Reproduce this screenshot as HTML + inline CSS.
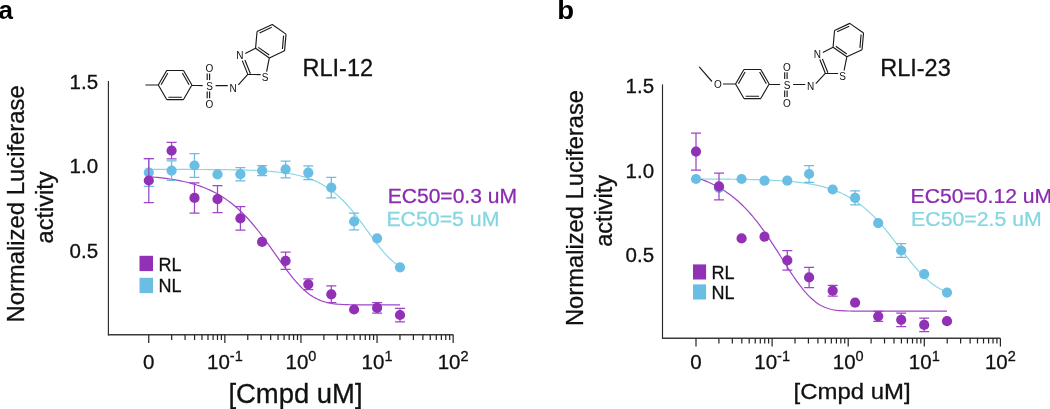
<!DOCTYPE html><html><head><meta charset="utf-8"><style>html,body{margin:0;padding:0;background:#fff;overflow:hidden}svg{display:block;will-change:transform}text{font-family:"Liberation Sans",sans-serif;fill:#111;stroke:#111;stroke-width:.3px}</style></head><body>
<svg width="1050" height="409" viewBox="0 0 1050 409">
<rect width="1050" height="409" fill="#fff"/>
<text x="-1.5" y="18.7" font-size="26" font-weight="bold" style="fill:#000;stroke:none">a</text>
<text transform="translate(557.2,18.7) scale(1.06,1)" font-size="26" font-weight="bold" style="fill:#000;stroke:none">b</text>
<path d="M108.4,81V335.4" fill="none" stroke="#2a2a2a" stroke-width="1.15"/>
<path d="M107.9,334.7H453.4" fill="none" stroke="#3a3a3a" stroke-width="1.5"/>
<path d="M148.76,334.7v8.4M171.67,334.7v5.2M185.07,334.7v5.2M194.58,334.7v5.2M201.95,334.7v5.2M207.98,334.7v5.2M213.07,334.7v5.2M217.49,334.7v5.2M221.38,334.7v5.2M224.86,334.7v8.4M247.77,334.7v5.2M261.17,334.7v5.2M270.68,334.7v5.2M278.05,334.7v5.2M284.08,334.7v5.2M289.17,334.7v5.2M293.59,334.7v5.2M297.48,334.7v5.2M300.96,334.7v8.4M323.87,334.7v5.2M337.27,334.7v5.2M346.78,334.7v5.2M354.15,334.7v5.2M360.18,334.7v5.2M365.27,334.7v5.2M369.69,334.7v5.2M373.58,334.7v5.2M377.06,334.7v8.4M399.97,334.7v5.2M413.37,334.7v5.2M422.88,334.7v5.2M430.25,334.7v5.2M436.28,334.7v5.2M441.37,334.7v5.2M445.79,334.7v5.2M449.68,334.7v5.2M453.16,334.7v8.4" stroke="#222" stroke-width="1.2" fill="none"/>
<text x="148.76" y="369.2" font-size="20.5" text-anchor="middle">0</text>
<text x="224.86" y="369.2" font-size="20.5" text-anchor="middle">10<tspan font-size="14.5" dy="-8.1">-1</tspan></text>
<text x="300.96" y="369.2" font-size="20.5" text-anchor="middle">10<tspan font-size="14.5" dy="-8.1">0</tspan></text>
<text x="377.06" y="369.2" font-size="20.5" text-anchor="middle">10<tspan font-size="14.5" dy="-8.1">1</tspan></text>
<text x="453.16" y="369.2" font-size="20.5" text-anchor="middle">10<tspan font-size="14.5" dy="-8.1">2</tspan></text>
<text x="98.1" y="88.5" font-size="20.5" text-anchor="end">1.5</text>
<text x="98.1" y="173.2" font-size="20.5" text-anchor="end">1.0</text>
<text x="98.1" y="257.8" font-size="20.5" text-anchor="end">0.5</text>
<text transform="translate(23.9,203.9) rotate(-90) scale(1.016,1)" font-size="23.5" text-anchor="middle">Normalized Luciferase</text>
<text transform="translate(52.7,207.5) rotate(-90)" font-size="23.5" text-anchor="middle">activity</text>
<text transform="translate(295.45,403.1) scale(1.024,1)" font-size="26.8" text-anchor="middle">[Cmpd uM]</text>
<path d="M148.80,169.40 L150.91,169.40 L153.02,169.40 L155.13,169.40 L157.24,169.40 L159.35,169.40 L161.47,169.40 L163.58,169.41 L165.69,169.41 L167.80,169.41 L169.91,169.41 L172.02,169.42 L174.13,169.42 L176.24,169.42 L178.35,169.43 L180.46,169.43 L182.57,169.44 L184.69,169.44 L186.80,169.45 L188.91,169.45 L191.02,169.46 L193.13,169.46 L195.24,169.47 L197.35,169.48 L199.46,169.49 L201.57,169.50 L203.68,169.51 L205.79,169.52 L207.91,169.53 L210.02,169.55 L212.13,169.56 L214.24,169.58 L216.35,169.60 L218.46,169.62 L220.57,169.64 L222.68,169.66 L224.79,169.69 L226.90,169.71 L229.02,169.74 L231.13,169.78 L233.24,169.81 L235.35,169.85 L237.46,169.89 L239.57,169.94 L241.68,169.99 L243.79,170.04 L245.90,170.10 L248.01,170.17 L250.12,170.24 L252.24,170.32 L254.35,170.40 L256.46,170.49 L258.57,170.59 L260.68,170.70 L262.79,170.82 L264.90,170.95 L267.01,171.09 L269.12,171.24 L271.23,171.41 L273.34,171.59 L275.46,171.78 L277.57,172.00 L279.68,172.23 L281.79,172.48 L283.90,172.76 L286.01,173.06 L288.12,173.38 L290.23,173.73 L292.34,174.12 L294.45,174.53 L296.56,174.98 L298.68,175.47 L300.79,176.00 L302.90,176.57 L305.01,177.19 L307.12,177.86 L309.23,178.58 L311.34,179.36 L313.45,180.20 L315.56,181.10 L317.67,182.08 L319.78,183.13 L321.90,184.25 L324.01,185.46 L326.12,186.75 L328.23,188.13 L330.34,189.61 L332.45,191.17 L334.56,192.84 L336.67,194.61 L338.78,196.49 L340.89,198.46 L343.01,200.54 L345.12,202.73 L347.23,205.02 L349.34,207.41 L351.45,209.89 L353.56,212.46 L355.67,215.12 L357.78,217.84 L359.89,220.64 L362.00,223.48 L364.11,226.36 L366.23,229.27 L368.34,232.18 L370.45,235.09 L372.56,237.98 L374.67,240.82 L376.78,243.61 L378.89,246.32 L381.00,248.94 L383.11,251.46 L385.22,253.86 L387.33,256.13 L389.45,258.27 L391.56,260.27 L393.67,262.11 L395.78,263.81 L397.89,265.36 L400.00,266.77" fill="none" stroke="#8ad7e2" stroke-width="1.2"/>
<path d="M148.80,176.71 L150.91,176.88 L153.02,177.06 L155.13,177.25 L157.24,177.46 L159.35,177.68 L161.47,177.91 L163.58,178.16 L165.69,178.43 L167.80,178.71 L169.91,179.01 L172.02,179.33 L174.13,179.67 L176.24,180.04 L178.35,180.42 L180.46,180.83 L182.57,181.27 L184.69,181.74 L186.80,182.23 L188.91,182.76 L191.02,183.31 L193.13,183.91 L195.24,184.54 L197.35,185.20 L199.46,185.91 L201.57,186.66 L203.68,187.46 L205.79,188.30 L207.91,189.20 L210.02,190.14 L212.13,191.14 L214.24,192.20 L216.35,193.31 L218.46,194.49 L220.57,195.73 L222.68,197.04 L224.79,198.42 L226.90,199.87 L229.02,201.40 L231.13,203.00 L233.24,204.68 L235.35,206.44 L237.46,208.28 L239.57,210.21 L241.68,212.22 L243.79,214.31 L245.90,216.48 L248.01,218.74 L250.12,221.09 L252.24,223.51 L254.35,226.02 L256.46,228.59 L258.57,231.25 L260.68,233.97 L262.79,236.75 L264.90,239.59 L267.01,242.48 L269.12,245.41 L271.23,248.37 L273.34,251.35 L275.46,254.35 L277.57,257.34 L279.68,260.33 L281.79,263.29 L283.90,266.21 L286.01,269.09 L288.12,271.90 L290.23,274.63 L292.34,277.28 L294.45,279.83 L296.56,282.27 L298.68,284.59 L300.79,286.78 L302.90,288.84 L305.01,290.75 L307.12,292.52 L309.23,294.15 L311.34,295.63 L313.45,296.97 L315.56,298.16 L317.67,299.22 L319.78,300.16 L321.90,300.97 L324.01,301.67 L326.12,302.27 L328.23,302.78 L330.34,303.20 L332.45,303.55 L334.56,303.84 L336.67,304.07 L338.78,304.26 L340.89,304.40 L343.01,304.52 L345.12,304.61 L347.23,304.67 L349.34,304.73 L351.45,304.76 L353.56,304.79 L355.67,304.81 L357.78,304.83 L359.89,304.84 L362.00,304.85 L364.11,304.85 L366.23,304.85 L368.34,304.86 L370.45,304.86 L372.56,304.86 L374.67,304.86 L376.78,304.86 L378.89,304.86 L381.00,304.86 L383.11,304.86 L385.22,304.86 L387.33,304.86 L389.45,304.86 L391.56,304.86 L393.67,304.86 L395.78,304.86 L397.89,304.86 L400.00,304.86" fill="none" stroke="#a045c8" stroke-width="1.2"/>
<path d="M143.80,158.70H153.80M148.80,158.70V186.30M143.80,186.30H153.80" stroke="#6abde3" stroke-width="1.25" fill="none"/>
<path d="M166.60,160.80H176.60M171.60,160.80V180.40M166.60,180.40H176.60" stroke="#6abde3" stroke-width="1.25" fill="none"/>
<path d="M189.50,153.70H199.50M194.50,153.70V177.30M189.50,177.30H199.50" stroke="#6abde3" stroke-width="1.25" fill="none"/>
<path d="M235.40,167.50H245.40M240.40,167.50V180.90M235.40,180.90H245.40" stroke="#6abde3" stroke-width="1.25" fill="none"/>
<path d="M257.10,165.50H267.10M262.10,165.50V175.70M257.10,175.70H267.10" stroke="#6abde3" stroke-width="1.25" fill="none"/>
<path d="M280.60,161.00H290.60M285.60,161.00V177.80M280.60,177.80H290.60" stroke="#6abde3" stroke-width="1.25" fill="none"/>
<path d="M303.30,165.80H313.30M308.30,165.80V179.60M303.30,179.60H313.30" stroke="#6abde3" stroke-width="1.25" fill="none"/>
<path d="M326.30,177.30H336.30M331.30,177.30V197.90M326.30,197.90H336.30" stroke="#6abde3" stroke-width="1.25" fill="none"/>
<path d="M349.10,213.10H359.10M354.10,213.10V229.90M349.10,229.90H359.10" stroke="#6abde3" stroke-width="1.25" fill="none"/>
<circle cx="148.80" cy="172.50" r="5.1" fill="#6abde3"/>
<circle cx="171.60" cy="170.60" r="5.1" fill="#6abde3"/>
<circle cx="194.50" cy="165.50" r="5.1" fill="#6abde3"/>
<circle cx="217.50" cy="174.30" r="5.1" fill="#6abde3"/>
<circle cx="240.40" cy="174.20" r="5.1" fill="#6abde3"/>
<circle cx="262.10" cy="170.60" r="5.1" fill="#6abde3"/>
<circle cx="285.60" cy="169.40" r="5.1" fill="#6abde3"/>
<circle cx="308.30" cy="172.70" r="5.1" fill="#6abde3"/>
<circle cx="331.30" cy="187.60" r="5.1" fill="#6abde3"/>
<circle cx="354.10" cy="221.50" r="5.1" fill="#6abde3"/>
<circle cx="377.10" cy="238.30" r="5.1" fill="#6abde3"/>
<circle cx="400.00" cy="267.30" r="5.1" fill="#6abde3"/>
<path d="M143.80,158.50H153.80M148.80,158.50V202.50M143.80,202.50H153.80" stroke="#a045c8" stroke-width="1.25" fill="none"/>
<path d="M166.60,142.40H176.60M171.60,142.40V158.80M166.60,158.80H176.60" stroke="#a045c8" stroke-width="1.25" fill="none"/>
<path d="M189.50,182.75H199.50M194.50,182.75V213.05M189.50,213.05H199.50" stroke="#a045c8" stroke-width="1.25" fill="none"/>
<path d="M212.50,185.65H222.50M217.50,185.65V212.55M212.50,212.55H222.50" stroke="#a045c8" stroke-width="1.25" fill="none"/>
<path d="M235.40,206.70H245.40M240.40,206.70V230.10M235.40,230.10H245.40" stroke="#a045c8" stroke-width="1.25" fill="none"/>
<path d="M280.60,252.20H290.60M285.60,252.20V269.40M280.60,269.40H290.60" stroke="#a045c8" stroke-width="1.25" fill="none"/>
<path d="M303.30,278.90H313.30M308.30,278.90V289.70M303.30,289.70H313.30" stroke="#a045c8" stroke-width="1.25" fill="none"/>
<path d="M326.30,285.95H336.30M331.30,285.95V302.65M326.30,302.65H336.30" stroke="#a045c8" stroke-width="1.25" fill="none"/>
<path d="M372.10,302.70H382.10M377.10,302.70V313.10M372.10,313.10H382.10" stroke="#a045c8" stroke-width="1.25" fill="none"/>
<path d="M395.00,308.25H405.00M400.00,308.25V321.75M395.00,321.75H405.00" stroke="#a045c8" stroke-width="1.25" fill="none"/>
<circle cx="148.80" cy="180.50" r="5.1" fill="#9031b6"/>
<circle cx="171.60" cy="150.60" r="5.1" fill="#9031b6"/>
<circle cx="194.50" cy="197.90" r="5.1" fill="#9031b6"/>
<circle cx="217.50" cy="199.10" r="5.1" fill="#9031b6"/>
<circle cx="240.40" cy="218.40" r="5.1" fill="#9031b6"/>
<circle cx="262.10" cy="241.90" r="5.1" fill="#9031b6"/>
<circle cx="285.60" cy="260.80" r="5.1" fill="#9031b6"/>
<circle cx="308.30" cy="284.30" r="5.1" fill="#9031b6"/>
<circle cx="331.30" cy="294.30" r="5.1" fill="#9031b6"/>
<circle cx="354.10" cy="309.50" r="5.1" fill="#9031b6"/>
<circle cx="377.10" cy="307.90" r="5.1" fill="#9031b6"/>
<circle cx="400.00" cy="315.00" r="5.1" fill="#9031b6"/>
<rect x="139.5" y="255.8" width="13.5" height="15.3" fill="#9031b6"/>
<rect x="139.5" y="277.8" width="13.5" height="15.3" fill="#6abde3"/>
<text x="158.5" y="270.6" font-size="18">RL</text>
<text x="158.5" y="292.4" font-size="18">NL</text>
<text transform="translate(387.7,203.3) scale(1.08,1)" font-size="19.5" style="fill:#8a2bb0;stroke:#8a2bb0;stroke-width:.25px">EC50=0.3 uM</text>
<text transform="translate(386.4,226) scale(1.093,1)" font-size="19.5" style="fill:#85d6e1;stroke:#85d6e1;stroke-width:.25px">EC50=5 uM</text>
<text x="302.5" y="76.2" font-size="23.5">RLI-12</text>
<g transform="translate(0,0)"><path d="M191.90,85.00L183.50,99.55M183.50,99.55L166.70,99.55M166.70,99.55L158.30,85.00M158.30,85.00L166.70,70.45M166.70,70.45L183.50,70.45M183.50,70.45L191.90,85.00M161.14,84.68L167.84,73.07M182.36,73.07L189.06,84.68M181.80,97.25L168.40,97.25M145.50,85.00L158.30,85.00M191.90,85.30L202.60,85.60M207.20,73.40L207.20,80.00M209.60,73.40L209.60,80.00M207.20,91.60L207.20,98.20M209.60,91.60L209.60,98.20M215.60,85.60L227.80,85.60M238.30,84.80L247.80,74.40M247.80,74.40L242.30,60.60M250.40,73.80L244.90,60.00M272.26,24.46L286.03,34.10M286.03,34.10L284.56,50.84M284.56,50.84L269.34,57.94M269.34,57.94L255.57,48.30M255.57,48.30L257.04,31.56M257.04,31.56L272.26,24.46M259.55,32.93L271.70,27.27M283.59,35.59L282.42,48.94M269.26,55.08L258.29,47.39M245.30,53.60L255.57,48.30M247.80,74.40L260.60,74.60M266.60,71.60L269.34,57.94" stroke="#1a1a1a" stroke-width="1.15" fill="none" stroke-linecap="butt"/><text x="209.50" y="89.80" font-size="10" text-anchor="middle" style="fill:#111;stroke:none">S</text><text x="209.50" y="72.10" font-size="10" text-anchor="middle" style="fill:#111;stroke:none">O</text><text x="209.50" y="108.10" font-size="10" text-anchor="middle" style="fill:#111;stroke:none">O</text><text x="233.10" y="91.60" font-size="10" text-anchor="middle" style="fill:#111;stroke:none">N</text><text x="239.90" y="59.20" font-size="10" text-anchor="middle" style="fill:#111;stroke:none">N</text><text x="265.20" y="80.80" font-size="10" text-anchor="middle" style="fill:#111;stroke:none">S</text></g>
<path d="M662.5,84.4V338.9" fill="none" stroke="#2a2a2a" stroke-width="1.15"/>
<path d="M662.0,338.2H1000.4" fill="none" stroke="#3a3a3a" stroke-width="1.5"/>
<path d="M696.00,338.2v8.4M718.91,338.2v5.2M732.31,338.2v5.2M741.82,338.2v5.2M749.19,338.2v5.2M755.22,338.2v5.2M760.31,338.2v5.2M764.73,338.2v5.2M768.62,338.2v5.2M772.10,338.2v8.4M795.01,338.2v5.2M808.41,338.2v5.2M817.92,338.2v5.2M825.29,338.2v5.2M831.32,338.2v5.2M836.41,338.2v5.2M840.83,338.2v5.2M844.72,338.2v5.2M848.20,338.2v8.4M871.11,338.2v5.2M884.51,338.2v5.2M894.02,338.2v5.2M901.39,338.2v5.2M907.42,338.2v5.2M912.51,338.2v5.2M916.93,338.2v5.2M920.82,338.2v5.2M924.30,338.2v8.4M947.21,338.2v5.2M960.61,338.2v5.2M970.12,338.2v5.2M977.49,338.2v5.2M983.52,338.2v5.2M988.61,338.2v5.2M993.03,338.2v5.2M996.92,338.2v5.2M1000.40,338.2v8.4" stroke="#222" stroke-width="1.2" fill="none"/>
<text x="696.00" y="369.2" font-size="20.5" text-anchor="middle">0</text>
<text x="772.10" y="369.2" font-size="20.5" text-anchor="middle">10<tspan font-size="14.5" dy="-8.1">-1</tspan></text>
<text x="848.20" y="369.2" font-size="20.5" text-anchor="middle">10<tspan font-size="14.5" dy="-8.1">0</tspan></text>
<text x="924.30" y="369.2" font-size="20.5" text-anchor="middle">10<tspan font-size="14.5" dy="-8.1">1</tspan></text>
<text x="1000.40" y="369.2" font-size="20.5" text-anchor="middle">10<tspan font-size="14.5" dy="-8.1">2</tspan></text>
<text x="654.1" y="93" font-size="20.5" text-anchor="end">1.5</text>
<text x="654.1" y="177.6" font-size="20.5" text-anchor="end">1.0</text>
<text x="654.1" y="262" font-size="20.5" text-anchor="end">0.5</text>
<text transform="translate(582.7,208.0) rotate(-90) scale(1.01,1)" font-size="23.5" text-anchor="middle">Normalized Luciferase</text>
<text transform="translate(611.7,210.8) rotate(-90)" font-size="23.5" text-anchor="middle">activity</text>
<text transform="translate(852.05,398.6) scale(1.069,1)" font-size="22.4" text-anchor="middle">[Cmpd uM]</text>
<path d="M696.00,178.99 L698.11,179.00 L700.22,179.01 L702.33,179.01 L704.44,179.02 L706.55,179.03 L708.66,179.04 L710.76,179.06 L712.87,179.07 L714.98,179.08 L717.09,179.10 L719.20,179.11 L721.31,179.13 L723.42,179.15 L725.53,179.17 L727.64,179.19 L729.75,179.21 L731.86,179.23 L733.97,179.26 L736.08,179.29 L738.18,179.32 L740.29,179.35 L742.40,179.39 L744.51,179.42 L746.62,179.46 L748.73,179.51 L750.84,179.55 L752.95,179.61 L755.06,179.66 L757.17,179.72 L759.28,179.78 L761.39,179.85 L763.50,179.92 L765.61,180.00 L767.71,180.08 L769.82,180.17 L771.93,180.27 L774.04,180.37 L776.15,180.49 L778.26,180.61 L780.37,180.74 L782.48,180.87 L784.59,181.02 L786.70,181.18 L788.81,181.36 L790.92,181.54 L793.03,181.74 L795.13,181.95 L797.24,182.18 L799.35,182.43 L801.46,182.69 L803.57,182.98 L805.68,183.28 L807.79,183.60 L809.90,183.95 L812.01,184.33 L814.12,184.73 L816.23,185.16 L818.34,185.62 L820.45,186.11 L822.55,186.63 L824.66,187.20 L826.77,187.80 L828.88,188.44 L830.99,189.12 L833.10,189.85 L835.21,190.63 L837.32,191.46 L839.43,192.35 L841.54,193.29 L843.65,194.29 L845.76,195.35 L847.87,196.48 L849.97,197.67 L852.08,198.94 L854.19,200.27 L856.30,201.68 L858.41,203.17 L860.52,204.74 L862.63,206.39 L864.74,208.12 L866.85,209.94 L868.96,211.84 L871.07,213.82 L873.18,215.89 L875.29,218.04 L877.39,220.27 L879.50,222.58 L881.61,224.96 L883.72,227.42 L885.83,229.94 L887.94,232.51 L890.05,235.15 L892.16,237.82 L894.27,240.54 L896.38,243.28 L898.49,246.03 L900.60,248.80 L902.71,251.56 L904.82,254.30 L906.92,257.02 L909.03,259.70 L911.14,262.33 L913.25,264.89 L915.36,267.38 L917.47,269.80 L919.58,272.12 L921.69,274.34 L923.80,276.45 L925.91,278.46 L928.02,280.35 L930.13,282.12 L932.24,283.77 L934.34,285.30 L936.45,286.72 L938.56,288.01 L940.67,289.20 L942.78,290.27 L944.89,291.24 L947.00,292.12" fill="none" stroke="#8ad7e2" stroke-width="1.2"/>
<path d="M696.00,177.67 L698.11,178.34 L700.22,179.05 L702.33,179.79 L704.44,180.59 L706.55,181.43 L708.66,182.31 L710.76,183.25 L712.87,184.25 L714.98,185.30 L717.09,186.40 L719.20,187.57 L721.31,188.81 L723.42,190.11 L725.53,191.48 L727.64,192.92 L729.75,194.44 L731.86,196.03 L733.97,197.71 L736.08,199.47 L738.18,201.31 L740.29,203.24 L742.40,205.25 L744.51,207.36 L746.62,209.56 L748.73,211.85 L750.84,214.24 L752.95,216.71 L755.06,219.28 L757.17,221.94 L759.28,224.69 L761.39,227.52 L763.50,230.43 L765.61,233.43 L767.71,236.50 L769.82,239.63 L771.93,242.83 L774.04,246.07 L776.15,249.36 L778.26,252.68 L780.37,256.02 L782.48,259.36 L784.59,262.71 L786.70,266.03 L788.81,269.32 L790.92,272.56 L793.03,275.73 L795.13,278.83 L797.24,281.83 L799.35,284.72 L801.46,287.48 L803.57,290.11 L805.68,292.58 L807.79,294.90 L809.90,297.05 L812.01,299.03 L814.12,300.83 L816.23,302.45 L818.34,303.90 L820.45,305.17 L822.55,306.28 L824.66,307.24 L826.77,308.05 L828.88,308.72 L830.99,309.28 L833.10,309.72 L835.21,310.08 L837.32,310.36 L839.43,310.57 L841.54,310.72 L843.65,310.84 L845.76,310.92 L847.87,310.98 L849.97,311.02 L852.08,311.04 L854.19,311.06 L856.30,311.07 L858.41,311.07 L860.52,311.07 L862.63,311.08 L864.74,311.08 L866.85,311.08 L868.96,311.08 L871.07,311.08 L873.18,311.08 L875.29,311.08 L877.39,311.08 L879.50,311.08 L881.61,311.08 L883.72,311.08 L885.83,311.08 L887.94,311.08 L890.05,311.08 L892.16,311.08 L894.27,311.08 L896.38,311.08 L898.49,311.08 L900.60,311.08 L902.71,311.08 L904.82,311.08 L906.92,311.08 L909.03,311.08 L911.14,311.08 L913.25,311.08 L915.36,311.08 L917.47,311.08 L919.58,311.08 L921.69,311.08 L923.80,311.08 L925.91,311.08 L928.02,311.08 L930.13,311.08 L932.24,311.08 L934.34,311.08 L936.45,311.08 L938.56,311.08 L940.67,311.08 L942.78,311.08 L944.89,311.08 L947.00,311.08" fill="none" stroke="#a045c8" stroke-width="1.2"/>
<path d="M804.10,165.60H814.10M809.10,165.60V182.40M804.10,182.40H814.10" stroke="#6abde3" stroke-width="1.25" fill="none"/>
<path d="M850.10,190.90H860.10M855.10,190.90V204.90M850.10,204.90H860.10" stroke="#6abde3" stroke-width="1.25" fill="none"/>
<path d="M896.20,243.70H906.20M901.20,243.70V257.30M896.20,257.30H906.20" stroke="#6abde3" stroke-width="1.25" fill="none"/>
<circle cx="696.00" cy="179.00" r="5.1" fill="#6abde3"/>
<circle cx="719.00" cy="188.00" r="5.1" fill="#6abde3"/>
<circle cx="741.60" cy="179.00" r="5.1" fill="#6abde3"/>
<circle cx="764.50" cy="180.70" r="5.1" fill="#6abde3"/>
<circle cx="787.30" cy="180.70" r="5.1" fill="#6abde3"/>
<circle cx="809.10" cy="174.00" r="5.1" fill="#6abde3"/>
<circle cx="832.70" cy="189.50" r="5.1" fill="#6abde3"/>
<circle cx="855.10" cy="197.90" r="5.1" fill="#6abde3"/>
<circle cx="878.20" cy="223.10" r="5.1" fill="#6abde3"/>
<circle cx="901.20" cy="250.50" r="5.1" fill="#6abde3"/>
<circle cx="924.20" cy="274.20" r="5.1" fill="#6abde3"/>
<circle cx="947.00" cy="292.60" r="5.1" fill="#6abde3"/>
<path d="M691.00,133.00H701.00M696.00,133.00V170.20M691.00,170.20H701.00" stroke="#a045c8" stroke-width="1.25" fill="none"/>
<path d="M714.00,173.00H724.00M719.00,173.00V199.80M714.00,199.80H724.00" stroke="#a045c8" stroke-width="1.25" fill="none"/>
<path d="M782.30,250.60H792.30M787.30,250.60V270.20M782.30,270.20H792.30" stroke="#a045c8" stroke-width="1.25" fill="none"/>
<path d="M804.10,267.25H814.10M809.10,267.25V287.55M804.10,287.55H814.10" stroke="#a045c8" stroke-width="1.25" fill="none"/>
<path d="M827.70,285.40H837.70M832.70,285.40V296.00M827.70,296.00H837.70" stroke="#a045c8" stroke-width="1.25" fill="none"/>
<path d="M873.20,311.25H883.20M878.20,311.25V321.35M873.20,321.35H883.20" stroke="#a045c8" stroke-width="1.25" fill="none"/>
<path d="M896.20,313.10H906.20M901.20,313.10V326.50M896.20,326.50H906.20" stroke="#a045c8" stroke-width="1.25" fill="none"/>
<path d="M919.20,318.10H929.20M924.20,318.10V331.70M919.20,331.70H929.20" stroke="#a045c8" stroke-width="1.25" fill="none"/>
<circle cx="696.00" cy="151.60" r="5.1" fill="#9031b6"/>
<circle cx="719.00" cy="186.40" r="5.1" fill="#9031b6"/>
<circle cx="741.60" cy="238.40" r="5.1" fill="#9031b6"/>
<circle cx="764.50" cy="236.70" r="5.1" fill="#9031b6"/>
<circle cx="787.30" cy="260.40" r="5.1" fill="#9031b6"/>
<circle cx="809.10" cy="277.40" r="5.1" fill="#9031b6"/>
<circle cx="832.70" cy="290.70" r="5.1" fill="#9031b6"/>
<circle cx="855.10" cy="302.70" r="5.1" fill="#9031b6"/>
<circle cx="878.20" cy="316.30" r="5.1" fill="#9031b6"/>
<circle cx="901.20" cy="319.80" r="5.1" fill="#9031b6"/>
<circle cx="924.20" cy="324.90" r="5.1" fill="#9031b6"/>
<circle cx="947.00" cy="321.20" r="5.1" fill="#9031b6"/>
<rect x="693" y="264.4" width="13.1" height="15.1" fill="#9031b6"/>
<rect x="693" y="284.4" width="13.1" height="15.1" fill="#6abde3"/>
<text x="711.5" y="278.6" font-size="18">RL</text>
<text x="711.5" y="298.6" font-size="18">NL</text>
<text transform="translate(910.6,202.9) scale(1.085,1)" font-size="19.5" style="fill:#8a2bb0;stroke:#8a2bb0;stroke-width:.25px">EC50=0.12 uM</text>
<text transform="translate(911.1,226.1) scale(1.092,1)" font-size="19.5" style="fill:#85d6e1;stroke:#85d6e1;stroke-width:.25px">EC50=2.5 uM</text>
<text x="880.2" y="76.2" font-size="23.5">RLI-23</text>
<g transform="translate(577.5,-1.1)"><path d="M191.65,85.10L183.25,99.65M183.25,99.65L166.45,99.65M166.45,99.65L158.05,85.10M158.05,85.10L166.45,70.55M166.45,70.55L183.25,70.55M183.25,70.55L191.65,85.10M160.89,84.78L167.59,73.17M182.11,73.17L188.81,84.78M181.55,97.35L168.15,97.35M158.05,85.10L145.45,85.10M134.45,82.60L121.75,68.00M191.65,85.40L202.60,85.60M207.20,73.40L207.20,80.00M209.60,73.40L209.60,80.00M207.20,91.60L207.20,98.20M209.60,91.60L209.60,98.20M215.60,85.60L227.80,85.60M238.30,84.80L247.80,74.40M247.80,74.40L242.30,60.60M250.40,73.80L244.90,60.00M272.26,24.46L286.03,34.10M286.03,34.10L284.56,50.84M284.56,50.84L269.34,57.94M269.34,57.94L255.57,48.30M255.57,48.30L257.04,31.56M257.04,31.56L272.26,24.46M259.55,32.93L271.70,27.27M283.59,35.59L282.42,48.94M269.26,55.08L258.29,47.39M245.30,53.60L255.57,48.30M247.80,74.40L260.60,74.60M266.60,71.60L269.34,57.94" stroke="#1a1a1a" stroke-width="1.15" fill="none" stroke-linecap="butt"/><text x="140.45" y="89.20" font-size="10" text-anchor="middle" style="fill:#111;stroke:none">O</text><text x="209.50" y="89.80" font-size="10" text-anchor="middle" style="fill:#111;stroke:none">S</text><text x="209.50" y="72.10" font-size="10" text-anchor="middle" style="fill:#111;stroke:none">O</text><text x="209.50" y="108.10" font-size="10" text-anchor="middle" style="fill:#111;stroke:none">O</text><text x="233.10" y="91.60" font-size="10" text-anchor="middle" style="fill:#111;stroke:none">N</text><text x="239.90" y="59.20" font-size="10" text-anchor="middle" style="fill:#111;stroke:none">N</text><text x="265.20" y="80.80" font-size="10" text-anchor="middle" style="fill:#111;stroke:none">S</text></g>
</svg></body></html>
